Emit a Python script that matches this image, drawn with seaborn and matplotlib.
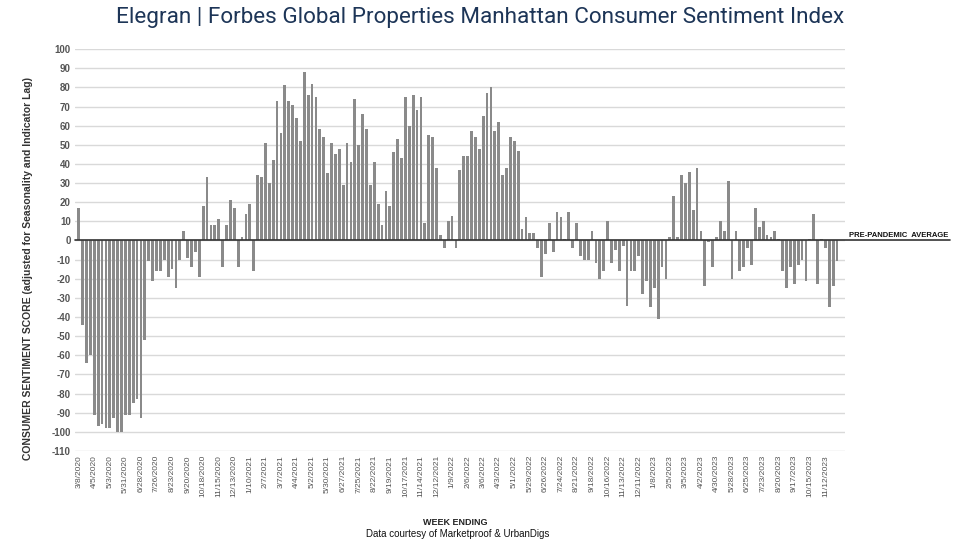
import numpy as np
import pandas as pd
import matplotlib
matplotlib.use("Agg")
import matplotlib.pyplot as plt
import seaborn as sns

# Weekly index values (week ending), starting 3/8/2020
VALUES = [
    17, -44, -64, -60, -91, -97, -96, -98, -98, -93,
    -100, -100, -91, -91, -85, -83, -93, -52, -11, -21,
    -16, -16, -10, -19, -15, -25, -10, 5, -9, -14,
    -6, -19, 18, 33, 8, 8, 11, -14, 8, 21,
    17, -14, 2, 14, 19, -16, 34, 33, 51, 30,
    42, 73, 56, 81, 73, 71, 64, 52, 88, 76,
    82, 75, 58, 54, 35, 51, 45, 48, 29, 51,
    41, 74, 50, 66, 58, 29, 41, 19, 8, 26,
    18, 46, 53, 43, 75, 60, 76, 68, 75, 9,
    55, 54, 38, 3, -4, 10, 13, -4, 37, 44,
    44, 57, 54, 48, 65, 77, 80, 57, 62, 34,
    38, 54, 52, 47, 6, 12, 4, 4, -4, -19,
    -7, 9, -6, 15, 12, 1, 15, -4, 9, -8,
    -10, -10, 5, -12, -20, -16, 10, -12, -5, -16,
    -3, -34, -16, -16, -8, -28, -21, -35, -25, -41,
    -14, -20, 2, 23, 2, 34, 30, 36, 16, 38,
    5, -24, -1, -14, 2, 10, 5, 31, -20, 5,
    -16, -14, -4, -13, 17, 7, 10, 3, 2, 5,
    1, -16, -25, -14, -23, -13, -10, -21, 1, 14,
    -23, 1, -4, -35, -24, -11,
]

# Tick labels, one every 4 weeks
TICK_LABELS = [
    "3/8/2020", "4/5/2020", "5/3/2020", "5/31/2020", "6/28/2020", "7/26/2020",
    "8/23/2020", "9/20/2020", "10/18/2020", "11/15/2020", "12/13/2020",
    "1/10/2021", "2/7/2021", "3/7/2021", "4/4/2021", "5/2/2021", "5/30/2021",
    "6/27/2021", "7/25/2021", "8/22/2021", "9/19/2021", "10/17/2021",
    "11/14/2021", "12/12/2021", "1/9/2022", "2/6/2022", "3/6/2022", "4/3/2022",
    "5/1/2022", "5/29/2022", "6/26/2022", "7/24/2022", "8/21/2022", "9/18/2022",
    "10/16/2022", "11/13/2022", "12/11/2022", "1/8/2023", "2/5/2023", "3/5/2023",
    "4/2/2023", "4/30/2023", "5/28/2023", "6/25/2023", "7/23/2023", "8/20/2023",
    "9/17/2023", "10/15/2023", "11/12/2023",
]
TICK_STEP = 4

df = pd.DataFrame({"week": np.arange(len(VALUES)), "score": VALUES})

sns.set_theme(style="white")
plt.rcParams["font.family"] = ["Liberation Sans", "DejaVu Sans"]

fig = plt.figure(figsize=(9.6, 5.4), dpi=100)
ax = fig.add_axes([0.078, 0.165, 0.802, 0.744])

sns.barplot(data=df, x="week", y="score", color="#8a8a8a", saturation=1,
            width=0.72, ax=ax, native_scale=True, edgecolor="none")

ax.set_ylim(-110, 100)
ax.set_xlim(-1.0, len(VALUES) + 1)
ax.set_yticks(np.arange(-110, 101, 10))
ax.set_yticklabels([str(v) for v in np.arange(-110, 101, 10)],
                   fontsize=7, fontweight="bold", color="#555555")
ax.yaxis.grid(True, color="#d9d9d9", linewidth=1)
ax.set_axisbelow(True)
ax.xaxis.grid(False)

ax.set_xticks(np.arange(0, len(TICK_LABELS) * TICK_STEP, TICK_STEP))
ax.set_xticklabels(TICK_LABELS, rotation=90, fontsize=6, color="#555555")
ax.tick_params(axis="both", length=0, pad=3)

for s in ax.spines.values():
    s.set_visible(False)

# zero / pre-pandemic average line extending to the right
ax.axhline(0, xmin=0, xmax=1.136, color="#333333", linewidth=1.2, clip_on=False, zorder=5)
ax.text(1.134, 0.8, "PRE-PANDEMIC  AVERAGE", transform=ax.get_yaxis_transform(),
        ha="right", va="bottom", fontsize=5.5, fontweight="bold", color="#111111")

ax.set_xlabel("")
ax.set_ylabel("CONSUMER SENTIMENT SCORE (adjusted for Seasonality and Indicator Lag)",
              fontsize=7.5, fontweight="bold", color="#333333")
ax.yaxis.set_label_coords(-0.055, 0.455)

fig.text(0.5, 0.968, "Elegran | Forbes Global Properties Manhattan Consumer Sentiment Index",
         ha="center", va="center", fontsize=16.2, color="#1d3557",
         family=["Roboto", "DejaVu Sans"])
fig.text(0.474, 0.033, "WEEK ENDING", ha="center", va="center", fontsize=6.5,
         fontweight="bold", color="#222222")
fig.text(0.477, 0.011, "Data courtesy of Marketproof & UrbanDigs", ha="center",
         va="center", fontsize=7, color="#111111")

fig.savefig("out.png", dpi=100)
